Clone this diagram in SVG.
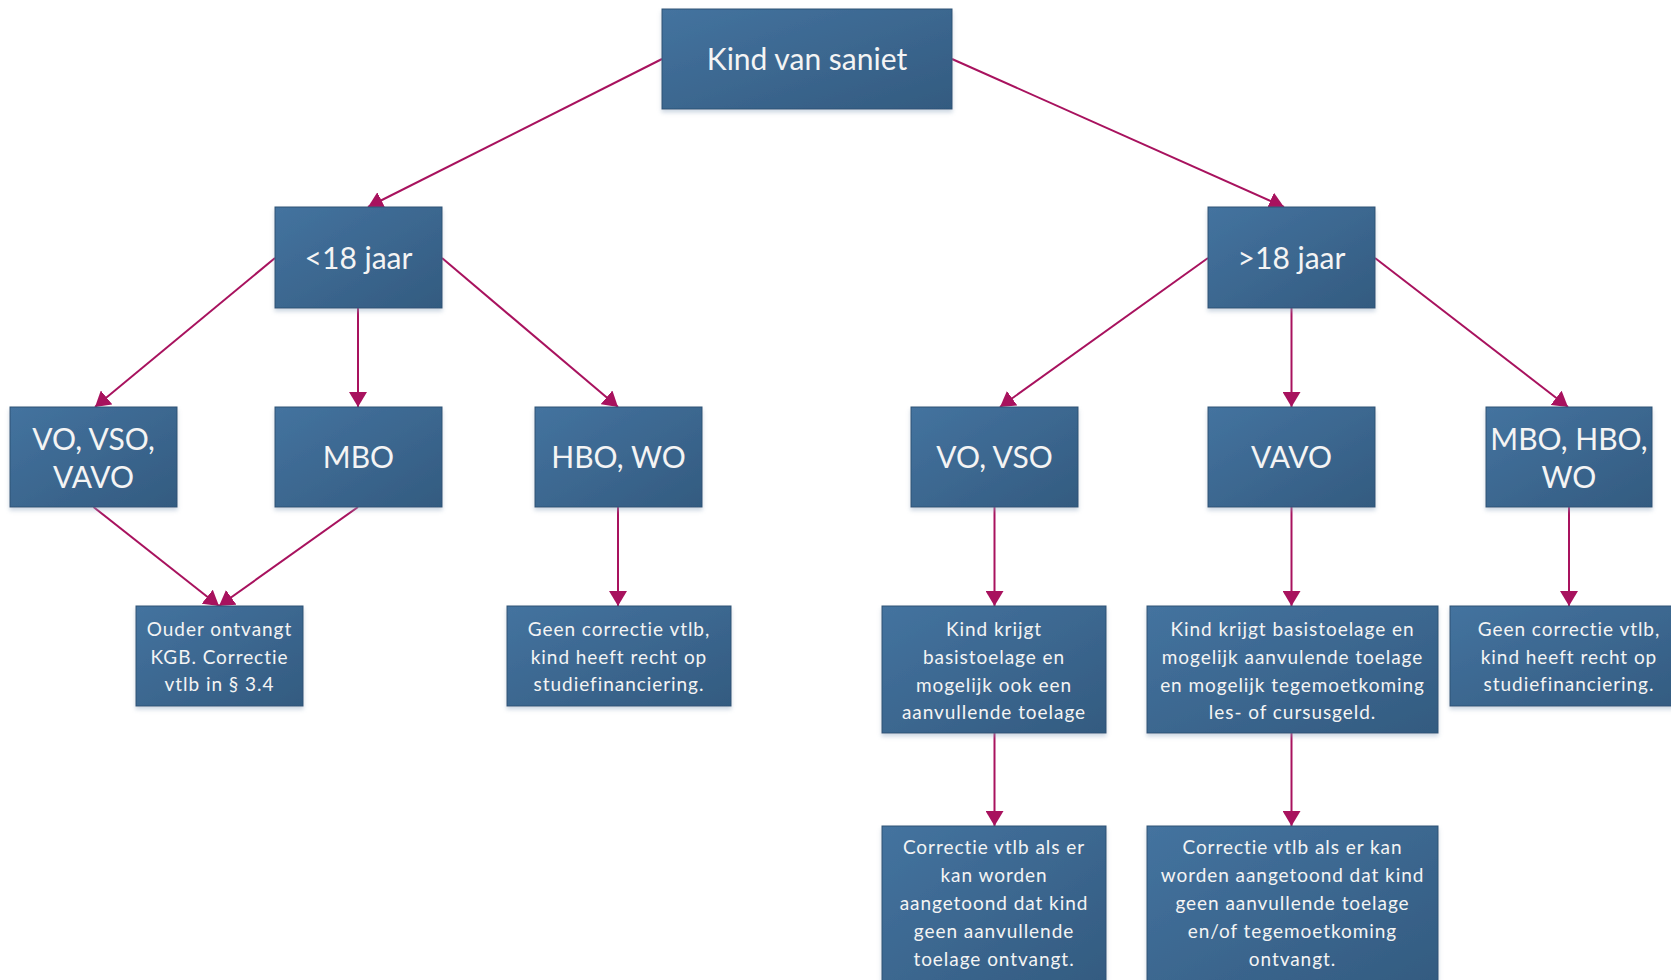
<svg xmlns="http://www.w3.org/2000/svg" width="1671" height="980" viewBox="0 0 1671 980">
<style>
.box{fill:url(#g);stroke:#2d5274;stroke-width:1;filter:url(#sh)}
.big{font-family:Lato,"Open Sans",sans-serif;font-size:30px;fill:#f4f4f4;text-anchor:middle}
.sm{font-family:Lato,"Open Sans",sans-serif;font-size:19px;fill:#f4f4f4;text-anchor:middle;letter-spacing:0.95px}
.c{stroke:#a8125e;stroke-width:2;fill:none;marker-end:url(#ah)}
</style>
<defs>
<linearGradient id="g" x1="0" y1="0" x2="1" y2="1">
<stop offset="0" stop-color="#44739f"/>
<stop offset="1" stop-color="#335b80"/>
</linearGradient>
<filter id="sh" x="-10%" y="-10%" width="120%" height="130%">
<feDropShadow dx="0" dy="3" stdDeviation="2" flood-color="#8fa6c0" flood-opacity="0.45"/>
</filter>
<marker id="ah" markerUnits="userSpaceOnUse" markerWidth="18" markerHeight="18" refX="15" refY="9" orient="auto">
<path d="M0,0 L15,9 L0,18 Z" fill="#a8125e"/>
</marker>
</defs>
<g id="connectors">
<line class="c" x1="662" y1="59" x2="368" y2="207"/>
<line class="c" x1="952" y1="59" x2="1284" y2="207"/>
<line class="c" x1="275" y1="258" x2="95" y2="407"/>
<line class="c" x1="358" y1="308" x2="358" y2="407"/>
<line class="c" x1="442" y1="258" x2="618" y2="407"/>
<line class="c" x1="1208" y1="258" x2="1000" y2="407"/>
<line class="c" x1="1291.5" y1="308" x2="1291.5" y2="407"/>
<line class="c" x1="1375" y1="258" x2="1568" y2="407"/>
<line class="c" x1="93.5" y1="507" x2="219" y2="606"/>
<line class="c" x1="358" y1="507" x2="219" y2="606"/>
<line class="c" x1="618" y1="507" x2="618" y2="606"/>
<line class="c" x1="994.5" y1="507" x2="994.5" y2="606"/>
<line class="c" x1="1291.5" y1="507" x2="1291.5" y2="606"/>
<line class="c" x1="1569" y1="507" x2="1569" y2="606"/>
<line class="c" x1="994.5" y1="733" x2="994.5" y2="826"/>
<line class="c" x1="1291.5" y1="733" x2="1291.5" y2="826"/>
</g>
<g id="root"><rect class="box" x="662" y="9" width="290" height="100"/><text class="big" x="807" y="70">Kind van saniet</text></g>
<g id="lt18"><rect class="box" x="275" y="207" width="167" height="101"/><text class="big" x="358.5" y="269">&lt;18 jaar</text></g>
<g id="gt18"><rect class="box" x="1208" y="207" width="167" height="101"/><text class="big" x="1291.5" y="269">&gt;18 jaar</text></g>
<g id="vo1"><rect class="box" x="10" y="407" width="167" height="100"/><text class="big" x="93.5" y="450">VO, VSO,</text><text class="big" x="93.5" y="488">VAVO</text></g>
<g id="mbo"><rect class="box" x="275" y="407" width="167" height="100"/><text class="big" x="358.5" y="468">MBO</text></g>
<g id="hbo"><rect class="box" x="535" y="407" width="167" height="100"/><text class="big" x="618.5" y="468">HBO, WO</text></g>
<g id="vo2"><rect class="box" x="911" y="407" width="167" height="100"/><text class="big" x="994.5" y="468">VO, VSO</text></g>
<g id="vavo"><rect class="box" x="1208" y="407" width="167" height="100"/><text class="big" x="1291.5" y="468">VAVO</text></g>
<g id="mhw"><rect class="box" x="1486" y="407" width="166" height="100"/><text class="big" x="1569" y="450">MBO, HBO,</text><text class="big" x="1569" y="488">WO</text></g>
<g id="ouder"><rect class="box" x="136" y="606" width="167" height="100"/>
<text class="sm" x="219.5" y="636">Ouder ontvangt</text><text class="sm" x="219.5" y="663.5">KGB. Correctie</text><text class="sm" x="219.5" y="691">vtlb in § 3.4</text></g>
<g id="geen1"><rect class="box" x="507" y="606" width="224" height="100"/>
<text class="sm" x="619" y="636">Geen correctie vtlb,</text><text class="sm" x="619" y="663.5">kind heeft recht op</text><text class="sm" x="619" y="691">studiefinanciering.</text></g>
<g id="kind1"><rect class="box" x="882" y="606" width="224" height="127"/>
<text class="sm" x="994" y="636">Kind krijgt</text><text class="sm" x="994" y="663.8">basistoelage en</text><text class="sm" x="994" y="691.6">mogelijk ook een</text><text class="sm" x="994" y="719.4">aanvullende toelage</text></g>
<g id="kind2"><rect class="box" x="1147" y="606" width="291" height="127"/>
<text class="sm" x="1292.5" y="636">Kind krijgt basistoelage en</text><text class="sm" x="1292.5" y="663.8">mogelijk aanvulende toelage</text><text class="sm" x="1292.5" y="691.6">en mogelijk tegemoetkoming</text><text class="sm" x="1292.5" y="719.4">les- of cursusgeld.</text></g>
<g id="geen2"><rect class="box" x="1450" y="606" width="240" height="100"/>
<text class="sm" x="1569" y="636">Geen correctie vtlb,</text><text class="sm" x="1569" y="663.5">kind heeft recht op</text><text class="sm" x="1569" y="691">studiefinanciering.</text></g>
<g id="corr1"><rect class="box" x="882" y="826" width="224" height="160"/>
<text class="sm" x="994" y="854">Correctie vtlb als er</text><text class="sm" x="994" y="882">kan worden</text><text class="sm" x="994" y="910">aangetoond dat kind</text><text class="sm" x="994" y="937.5">geen aanvullende</text><text class="sm" x="994" y="966">toelage ontvangt.</text></g>
<g id="corr2"><rect class="box" x="1147" y="826" width="291" height="160"/>
<text class="sm" x="1292.5" y="854">Correctie vtlb als er kan</text><text class="sm" x="1292.5" y="882">worden aangetoond dat kind</text><text class="sm" x="1292.5" y="910">geen aanvullende toelage</text><text class="sm" x="1292.5" y="937.5">en/of tegemoetkoming</text><text class="sm" x="1292.5" y="966">ontvangt.</text></g>
</svg>
